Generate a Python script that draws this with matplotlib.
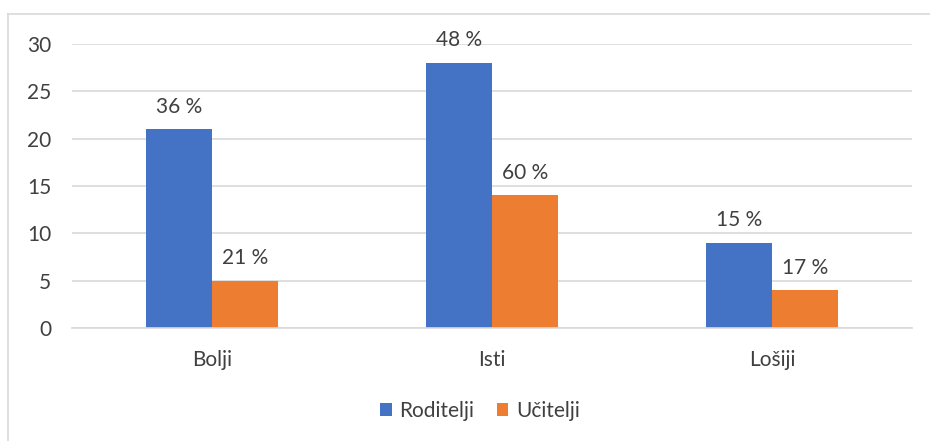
import matplotlib
matplotlib.use('Agg')
import matplotlib.pyplot as plt
from matplotlib.lines import Line2D
import numpy as np

plt.rcParams['font.family'] = ['Lato', 'DejaVu Sans']

categories = ['Bolji', 'Isti', 'Lošiji']
series_names = ['Roditelji', 'Učitelji']
roditelji = [21, 28, 9]
ucitelji = [5, 14, 4]
roditelji_labels = ['36 %', '48 %', '15 %']
ucitelji_labels = ['21 %', '60 %', '17 %']
yticks = [0, 5, 10, 15, 20, 25, 30]

BLUE = '#4472C4'
ORANGE = '#ED7D31'
GRID = '#D9D9D9'
TEXT = '#404040'
FS = 15

W, H = 930, 441
fig = plt.figure(figsize=(W / 100, H / 100), dpi=100)
fig.patch.set_facecolor('white')

# plot area in pixel coordinates from the reference
left, right, top, bottom = 72, 912, 44, 328
ax = fig.add_axes([left / W, 1 - bottom / H, (right - left) / W, (bottom - top) / H])

x = np.arange(len(categories))
bw = 0.237
b1 = ax.bar(x - bw / 2, roditelji, bw, color=BLUE, label=series_names[0], zorder=2)
b2 = ax.bar(x + bw / 2, ucitelji, bw, color=ORANGE, label=series_names[1], zorder=2)

for bars, labels in ((b1, roditelji_labels), (b2, ucitelji_labels)):
    for rect, lab in zip(bars, labels):
        ax.annotate(lab, (rect.get_x() + rect.get_width() / 2, rect.get_height()),
                    xytext=(0, 9), textcoords='offset points',
                    ha='center', va='bottom', fontsize=FS, color=TEXT)

ax.set_xlim(-0.5, len(categories) - 0.5)
ax.set_ylim(0, 30)
ax.set_yticks(yticks)
ax.set_xticks(x)
ax.set_xticklabels(categories)
ax.yaxis.grid(True, color=GRID, linewidth=1.2, zorder=0)
ax.set_axisbelow(True)
for s in ('top', 'right', 'left'):
    ax.spines[s].set_visible(False)
ax.spines['bottom'].set_color(GRID)
ax.spines['bottom'].set_linewidth(1.2)
ax.tick_params(axis='both', length=0, labelsize=FS, colors=TEXT)
ax.tick_params(axis='y', pad=15)
ax.tick_params(axis='x', pad=16)

leg = fig.legend(loc='center', bbox_to_anchor=(480 / W, 1 - 411 / H), ncol=2,
                 frameon=False, fontsize=FS, handlelength=0.55, handleheight=0.55,
                 handletextpad=0.35, columnspacing=1.1)
for t in leg.get_texts():
    t.set_color(TEXT)

# chart border (left and top edge visible in the reference)
fig.add_artist(Line2D([8 / W, 8 / W], [0, 1 - 14 / H], transform=fig.transFigure,
                      color=GRID, linewidth=1.2))
fig.add_artist(Line2D([8 / W, 1], [1 - 14 / H, 1 - 14 / H], transform=fig.transFigure,
                      color=GRID, linewidth=1.2))

fig.savefig('out.png', dpi=100, facecolor='white')
